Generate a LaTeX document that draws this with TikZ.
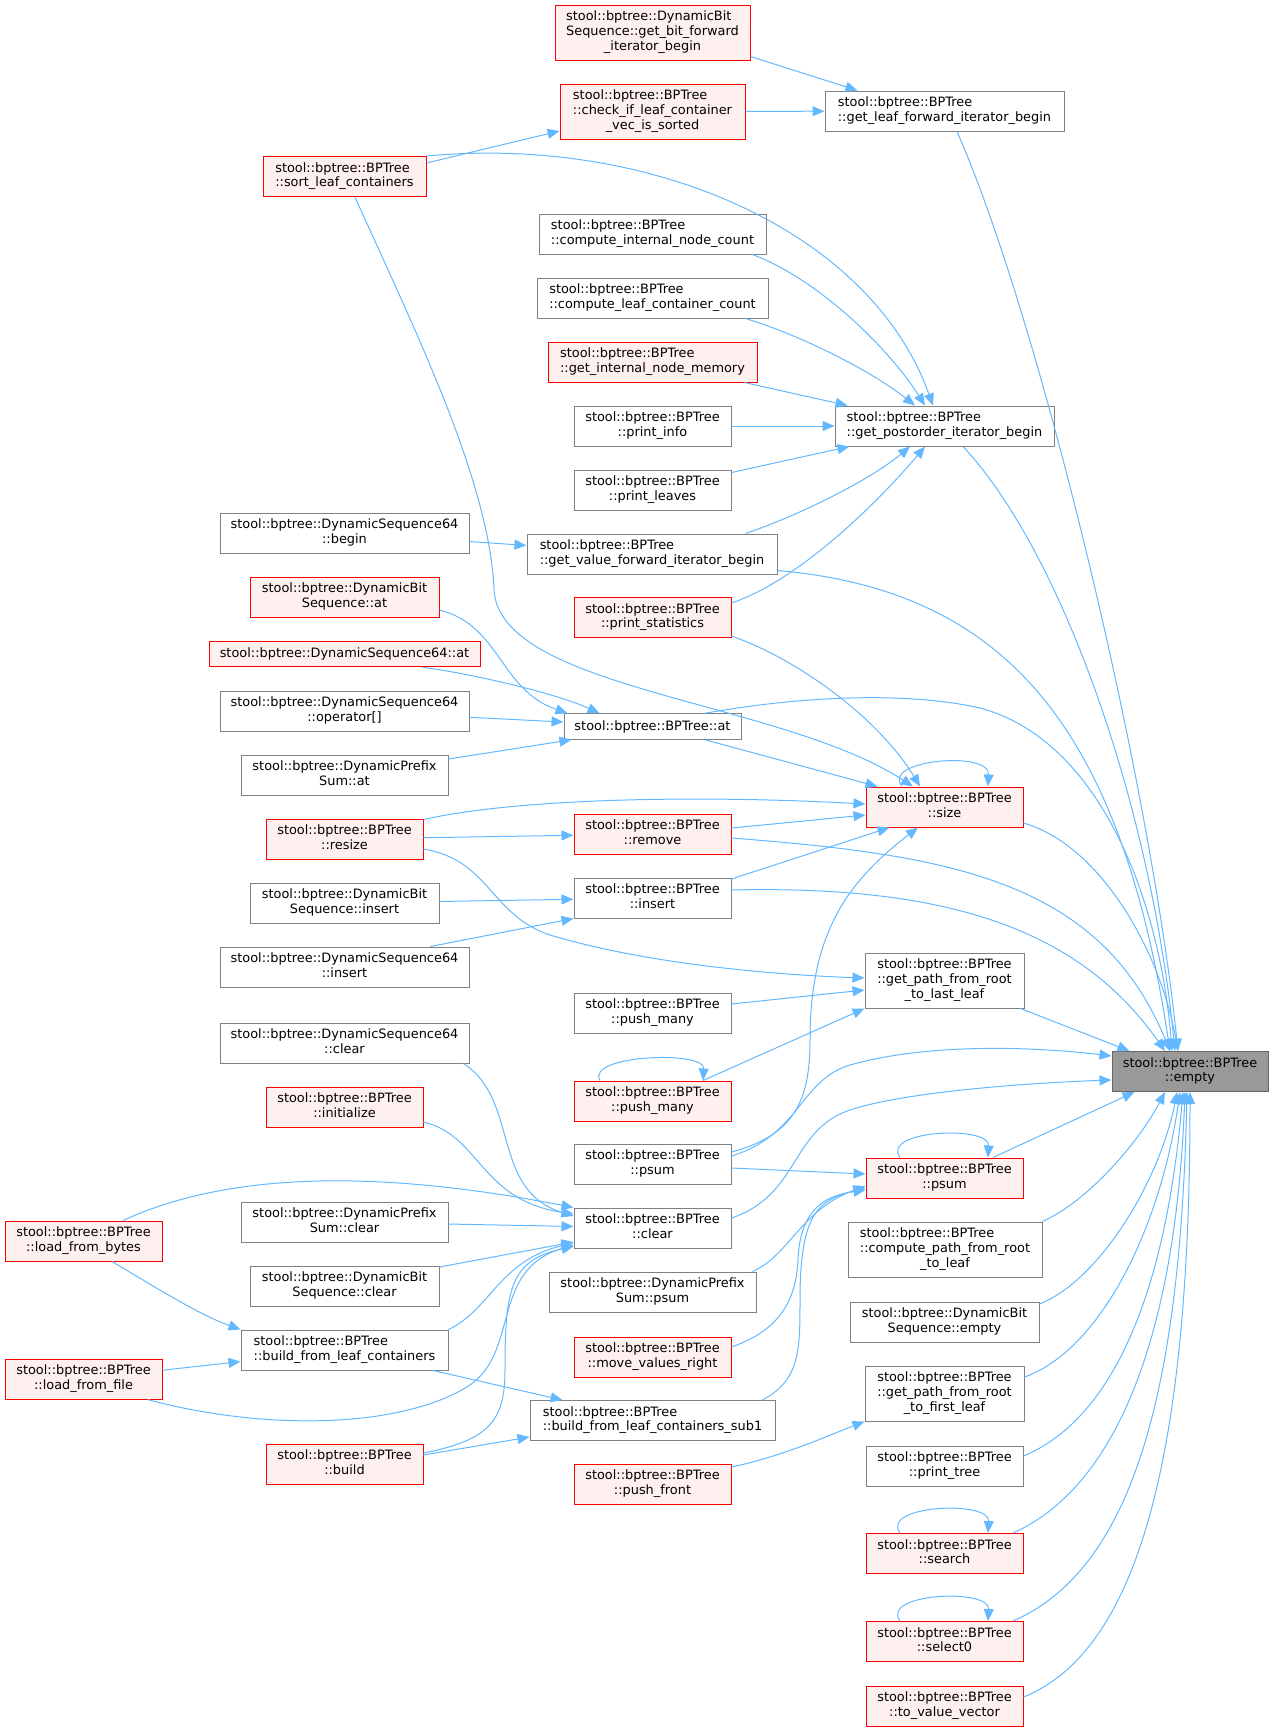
\documentclass[tikz,border=0pt]{standalone}
\usepackage{fontspec}
\setmainfont{DejaVu Sans}
\usetikzlibrary{arrows.meta}
\definecolor{edgeblue}{HTML}{63B8FF}
\definecolor{nodegray}{HTML}{808080}
\definecolor{maingray}{HTML}{666666}
\definecolor{hotfill}{HTML}{FFF0F0}
\definecolor{mainfill}{HTML}{999999}
\newcommand{\fnlabel}[2]{\begin{tabular}{@{}l@{}}#1\\\multicolumn{1}{@{}c@{}}{#2}\end{tabular}}

\begin{document}
\begin{tikzpicture}[x=0.5pt, y=-0.5pt,
  fn/.style={draw=nodegray, fill=white, line width=0.5pt, inner sep=0pt,
    minimum height=20pt, font=\fontsize{6.45}{7.35}\selectfont},
  hot/.style={fn, draw=red, fill=hotfill},
  main/.style={fn, draw=maingray, fill=mainfill},
  wd/.style={minimum width=#1*0.5pt},
  tall/.style={minimum height=27.5pt},
  flat/.style={minimum height=12.75pt},
  call/.style={draw=edgeblue, line width=0.5pt, -{Triangle[length=6pt,width=5pt]}}]
\useasboundingbox (0,0) rectangle (1273,1731);

\node [hot,wd=195,tall] (gbf) at (652.5,  32.5) {\fnlabel{stool::bptree::DynamicBit\\Sequence::get\_bit\_forward}{\_iterator\_begin}};
\node [hot,wd=185,tall] (chk) at (652.5, 111.5) {\fnlabel{stool::bptree::BPTree\\::check\_if\_leaf\_container}{\_vec\_is\_sorted}};
\node [fn,wd=239]       (glf) at (944.5, 111)   {\fnlabel{stool::bptree::BPTree}{::get\_leaf\_forward\_iterator\_begin}};
\node [hot,wd=163]      (slc) at (344.5, 176.5) {\fnlabel{stool::bptree::BPTree}{::sort\_leaf\_containers}};
\node [fn,wd=227]       (cin) at (652.5, 234)   {\fnlabel{stool::bptree::BPTree}{::compute\_internal\_node\_count}};
\node [fn,wd=231]       (clc) at (652.5, 298)   {\fnlabel{stool::bptree::BPTree}{::compute\_leaf\_container\_count}};
\node [hot,wd=209]      (gim) at (652.5, 362)   {\fnlabel{stool::bptree::BPTree}{::get\_internal\_node\_memory}};
\node [fn,wd=157]       (pin) at (652.5, 426)   {\fnlabel{stool::bptree::BPTree}{::print\_info}};
\node [fn,wd=219]       (gpo) at (944.5, 426)   {\fnlabel{stool::bptree::BPTree}{::get\_postorder\_iterator\_begin}};
\node [fn,wd=157]       (plv) at (652.5, 490)   {\fnlabel{stool::bptree::BPTree}{::print\_leaves}};
\node [fn,wd=249]       (dsb) at (344.5, 533)   {\fnlabel{stool::bptree::DynamicSequence64}{::begin}};
\node [fn,wd=250]       (gvf) at (652,   554)   {\fnlabel{stool::bptree::BPTree}{::get\_value\_forward\_iterator\_begin}};
\node [hot,wd=189]      (dba) at (344.5, 597)   {\fnlabel{stool::bptree::DynamicBit}{Sequence::at}};
\node [hot,wd=157]      (pst) at (652.5, 617.5) {\fnlabel{stool::bptree::BPTree}{::print\_statistics}};
\node [hot,wd=271,flat] (dsa) at (344.5, 654)   {stool::bptree::DynamicSequence64::at};
\node [fn,wd=249]       (dso) at (344.5, 711)   {\fnlabel{stool::bptree::DynamicSequence64}{::operator[]}};
\node [fn,wd=177,flat]  (at)  at (652.5, 726.5) {stool::bptree::BPTree::at};
\node [fn,wd=207]       (dpa) at (344.5, 775)   {\fnlabel{stool::bptree::DynamicPrefix}{Sum::at}};
\node [hot,wd=157]      (sz)  at (944.5, 807)   {\fnlabel{stool::bptree::BPTree}{::size}};
\node [hot,wd=157]      (rsz) at (344.5, 839)   {\fnlabel{stool::bptree::BPTree}{::resize}};
\node [hot,wd=157]      (rm)  at (652.5, 834)   {\fnlabel{stool::bptree::BPTree}{::remove}};
\node [fn,wd=157]       (ins) at (652.5, 898)   {\fnlabel{stool::bptree::BPTree}{::insert}};
\node [fn,wd=189]       (dbi) at (344.5, 903)   {\fnlabel{stool::bptree::DynamicBit}{Sequence::insert}};
\node [fn,wd=249]       (dsi) at (344.5, 967)   {\fnlabel{stool::bptree::DynamicSequence64}{::insert}};
\node [fn,wd=159,tall]  (gpl) at (944.5, 980.5) {\fnlabel{stool::bptree::BPTree\\::get\_path\_from\_root}{\_to\_last\_leaf}};
\node [fn,wd=157]       (pmw) at (652.5, 1013)  {\fnlabel{stool::bptree::BPTree}{::push\_many}};
\node [fn,wd=249]       (dsc) at (344.5, 1043)  {\fnlabel{stool::bptree::DynamicSequence64}{::clear}};
\node [main,wd=156]     (emp) at (1190,  1071.5) {\fnlabel{stool::bptree::BPTree}{::empty}};
\node [hot,wd=157]      (pmr) at (652.5, 1101)  {\fnlabel{stool::bptree::BPTree}{::push\_many}};
\node [hot,wd=157]      (ini) at (344.5, 1107)  {\fnlabel{stool::bptree::BPTree}{::initialize}};
\node [fn,wd=157]       (psw) at (652.5, 1164)  {\fnlabel{stool::bptree::BPTree}{::psum}};
\node [hot,wd=157]      (psr) at (944.5, 1178)  {\fnlabel{stool::bptree::BPTree}{::psum}};
\node [fn,wd=207]       (dpc) at (344.5, 1222)  {\fnlabel{stool::bptree::DynamicPrefix}{Sum::clear}};
\node [fn,wd=157]       (clr) at (652.5, 1228)  {\fnlabel{stool::bptree::BPTree}{::clear}};
\node [hot,wd=157]      (lfb) at (83.5,  1241)  {\fnlabel{stool::bptree::BPTree}{::load\_from\_bytes}};
\node [fn,wd=194,tall]  (cpl) at (945,   1249.5) {\fnlabel{stool::bptree::BPTree\\::compute\_path\_from\_root}{\_to\_leaf}};
\node [fn,wd=189]       (dbc) at (344.5, 1286)  {\fnlabel{stool::bptree::DynamicBit}{Sequence::clear}};
\node [fn,wd=207]       (dps) at (652.5, 1292)  {\fnlabel{stool::bptree::DynamicPrefix}{Sum::psum}};
\node [fn,wd=189]       (dbe) at (944.5, 1322)  {\fnlabel{stool::bptree::DynamicBit}{Sequence::empty}};
\node [fn,wd=207]       (bfl) at (344.5, 1350)  {\fnlabel{stool::bptree::BPTree}{::build\_from\_leaf\_containers}};
\node [hot,wd=157]      (mvr) at (652.5, 1357)  {\fnlabel{stool::bptree::BPTree}{::move\_values\_right}};
\node [hot,wd=157]      (lff) at (83.5,  1379)  {\fnlabel{stool::bptree::BPTree}{::load\_from\_file}};
\node [fn,wd=159,tall]  (gpf) at (944.5, 1393.5) {\fnlabel{stool::bptree::BPTree\\::get\_path\_from\_root}{\_to\_first\_leaf}};
\node [fn,wd=245]       (bs1) at (652.5, 1420.5) {\fnlabel{stool::bptree::BPTree}{::build\_from\_leaf\_containers\_sub1}};
\node [hot,wd=157]      (bld) at (344.5, 1464)  {\fnlabel{stool::bptree::BPTree}{::build}};
\node [fn,wd=157]       (ptr) at (944.5, 1466)  {\fnlabel{stool::bptree::BPTree}{::print\_tree}};
\node [hot,wd=157]      (pfr) at (652.5, 1484)  {\fnlabel{stool::bptree::BPTree}{::push\_front}};
\node [hot,wd=157]      (sea) at (944.5, 1553.5) {\fnlabel{stool::bptree::BPTree}{::search}};
\node [hot,wd=157]      (sel) at (944.5, 1641.5) {\fnlabel{stool::bptree::BPTree}{::select0}};
\node [hot,wd=157]      (tvv) at (944.5, 1706)  {\fnlabel{stool::bptree::BPTree}{::to\_value\_vector}};

\draw [call] ([shift={(0,-4)}]gbf.south east) -- ([shift={(33,0)}]glf.north west);
\draw [call] (chk) -- (glf);
\draw [call] ([shift={(12.5,0)}]glf.south) .. controls (1040,320) and (1150,780) .. ([shift={(-12,0)}]emp.north);
\draw [call] ([shift={(0,-13.5)}]slc.east) -- ([shift={(0,19.5)}]chk.west);
\draw [call] (slc.north east) .. controls (650,135) and (870,230) .. ([shift={(-11.5,0)}]gpo.north);
\draw [call] ([shift={(10.5,0)}]slc.south) .. controls (410,320) and (490,480) .. (494,590)
    .. controls (500,690) and (780,700) .. ([shift={(-31.5,0)}]sz.north);
\draw [call] ([shift={(-14,0)}]cin.south east) .. controls (820,280) and (890,350) .. ([shift={(-19.5,0)}]gpo.north);
\draw [call] ([shift={(-23,0)}]clc.south east) .. controls (800,335) and (870,370) .. ([shift={(-29.5,0)}]gpo.north);
\draw [call] ([shift={(-13,0)}]gim.south east) -- ([shift={(13,0)}]gpo.north west);
\draw [call] (pin) -- (gpo);
\draw [call] ([shift={(0,3)}]plv.north east) -- ([shift={(15,0)}]gpo.south west);
\draw [call] ([shift={(-32,0)}]gvf.north east) .. controls (800,515) and (870,480) .. ([shift={(-34.5,0)}]gpo.south);
\draw [call] ([shift={(0,6)}]pst.north east) .. controls (800,580) and (880,500) .. ([shift={(-19.5,0)}]gpo.south);
\draw [call] ([shift={(18.5,0)}]gpo.south) .. controls (1060,550) and (1150,800) .. ([shift={(-15,0)}]emp.north);
\draw [call] (dsb) -- (gvf);
\draw [call] ([shift={(0,-4)}]gvf.south east) .. controls (1000,590) and (1120,720) .. ([shift={(-20,0)}]emp.north);

\draw [call] ([shift={(0,13)}]dba.east) .. controls (500,625) and (500,690) .. ([shift={(4,0)}]at.north west);
\draw [call] ([shift={(-58,0)}]dsa.south east) .. controls (480,675) and (560,695) .. ([shift={(36,0)}]at.north west);
\draw [call] (dso) -- (at);
\draw [call] ([shift={(0,-16)}]dpa.east) -- ([shift={(8,0)}]at.south west);
\draw [call] ([shift={(52.5,0)}]at.south) -- ([shift={(12,0)}]sz.north west);
\draw [call] ([shift={(52.5,0)}]at.north) .. controls (790,698) and (900,690) .. (980,708)
    .. controls (1100,740) and (1160,900) .. ([shift={(-18,0)}]emp.north);
\draw [call] ([shift={(-42.5,0)}]sz.north) .. controls (880,760) and (990,750) .. ([shift={(43.5,0)}]sz.north);
\draw [call] ([shift={(0,18.5)}]pst.east) .. controls (800,660) and (880,720) .. ([shift={(-24.5,0)}]sz.north);
\draw [call] ([shift={(0,1)}]rsz.north east) .. controls (520,798) and (700,795) .. ([shift={(0,-3)}]sz.west);
\draw [call] (rsz) -- (rm);
\draw [call] ([shift={(0,10)}]rsz.east) .. controls (490,860) and (490,915) .. (550,935)
    .. controls (650,965) and (780,975) .. ([shift={(0,-2.5)}]gpl.west);
\draw [call] ([shift={(0,-6)}]rm.east) -- ([shift={(0,8)}]sz.west);
\draw [call] ([shift={(0,4)}]rm.east) .. controls (950,855) and (1100,880) .. ([shift={(-20,0)}]emp.north);
\draw [call] ([shift={(0,-19)}]ins.east) -- ([shift={(24,0)}]sz.south west);
\draw [call] ([shift={(0,-8)}]ins.east) .. controls (950,885) and (1080,930) .. ([shift={(-25,0)}]emp.north);
\draw [call] (dbi) -- (ins);
\draw [call] ([shift={(-39,0)}]dsi.north east) -- (ins.south west);
\draw [call] ([shift={(0,16)}]sz.east) .. controls (1100,845) and (1160,950) .. ([shift={(-12,0)}]emp.north);

\draw [call] ([shift={(0,-12)}]psw.east) .. controls (795,1135) and (810,1100) .. (810,1040)
    .. controls (810,930) and (850,880) .. ([shift={(-26.5,0)}]sz.south);
\draw [call] ([shift={(0,-8)}]psw.east) .. controls (800,1135) and (800,1080) .. (850,1065)
    .. controls (920,1045) and (1020,1045) .. ([shift={(0,-15.5)}]emp.west);
\draw [call] ([shift={(0,-10)}]clr.east) .. controls (800,1195) and (790,1130) .. (850,1110)
    .. controls (910,1090) and (1050,1082) .. ([shift={(0,8.5)}]emp.west);
\draw [call] ([shift={(-4,0)}]gpl.south east) -- ([shift={(18,0)}]emp.north west);
\draw [call] ([shift={(0,-9)}]pmw.east) -- ([shift={(0,9.5)}]gpl.west);
\draw [call] ([shift={(50.5,0)}]pmr.north) -- (gpl.south west);
\draw [call] ([shift={(-52.5,0)}]pmr.north) .. controls (585,1055) and (705,1050) .. ([shift={(50.5,0)}]pmr.north);
\draw [call] ([shift={(0,4)}]psw.east) -- ([shift={(0,-4)}]psr.west);
\draw [call] ([shift={(-44.5,0)}]psr.north) .. controls (880,1130) and (990,1125) .. ([shift={(43.5,0)}]psr.north);
\draw [call] ([shift={(48.5,0)}]psr.north) -- ([shift={(23,0)}]emp.south west);
\draw [call] ([shift={(-13,0)}]bs1.north east) .. controls (800,1380) and (800,1350) .. (800,1300)
    .. controls (800,1210) and (820,1200) .. ([shift={(0,10)}]psr.west);
\draw [call] ([shift={(0,-10)}]mvr.east) .. controls (780,1330) and (796,1300) .. (798,1260)
    .. controls (800,1205) and (830,1195) .. ([shift={(0,12)}]psr.west);
\draw [call] ([shift={(-4,0)}]dps.north east) .. controls (790,1255) and (800,1210) .. ([shift={(0,8)}]psr.west);

\draw [call] ([shift={(39.5,0)}]lfb.north) .. controls (200,1185) and (330,1160) .. (clr.north west);
\draw [call] ([shift={(-6,0)}]dsc.south east) .. controls (520,1100) and (490,1190) .. ([shift={(0,-12)}]clr.west);
\draw [call] ([shift={(0,15)}]ini.east) .. controls (480,1135) and (480,1200) .. ([shift={(0,-14)}]clr.west);
\draw [call] (dpc) -- (clr);
\draw [call] ([shift={(0,-19)}]dbc.east) -- ([shift={(0,14)}]clr.west);
\draw [call] (bfl.north east) .. controls (490,1310) and (500,1260) .. ([shift={(0,15)}]clr.west);
\draw [call] ([shift={(-15,0)}]lff.south east) .. controls (260,1430) and (400,1430) .. (470,1385)
    .. controls (520,1350) and (490,1270) .. ([shift={(0,17)}]clr.west);
\draw [call] ([shift={(0,-11)}]bld.east) .. controls (490,1440) and (505,1420) .. (505,1370)
    .. controls (505,1290) and (510,1260) .. ([shift={(0,-2)}]clr.south west);
\draw [call] ([shift={(28.5,0)}]lfb.south) .. controls (160,1290) and (200,1315) .. (bfl.north west);
\draw [call] (lff) -- (bfl);
\draw [call] ([shift={(88.5,0)}]bfl.south) -- ([shift={(33,0)}]bs1.north west);
\draw [call] ([shift={(0,-9)}]bld.east) -- ([shift={(0,16.5)}]bs1.west);
\draw [call] ([shift={(0,-17)}]pfr.east) .. controls (780,1457) and (830,1435) .. (gpf.south west);

\draw [call] (cpl.north east) .. controls (1090,1200) and (1140,1140) .. ([shift={(-25,0)}]emp.south);
\draw [call] ([shift={(0,-18)}]dbe.east) .. controls (1100,1280) and (1160,1180) .. ([shift={(-13,0)}]emp.south);
\draw [call] ([shift={(0,-16.5)}]gpf.east) .. controls (1100,1350) and (1160,1230) .. ([shift={(-10,0)}]emp.south);
\draw [call] ([shift={(0,-10)}]ptr.east) .. controls (1110,1420) and (1165,1300) .. ([shift={(-7,0)}]emp.south);
\draw [call] ([shift={(68.5,0)}]sea.north) .. controls (1110,1490) and (1175,1350) .. ([shift={(-5,0)}]emp.south);
\draw [call] ([shift={(-44.5,0)}]sea.north) .. controls (880,1505) and (990,1500) .. ([shift={(43.5,0)}]sea.north);
\draw [call] ([shift={(68.5,0)}]sel.north) .. controls (1130,1570) and (1180,1400) .. ([shift={(-3,0)}]emp.south);
\draw [call] ([shift={(-44.5,0)}]sel.north) .. controls (880,1593) and (990,1588) .. ([shift={(43.5,0)}]sel.north);
\draw [call] ([shift={(0,-9)}]tvv.east) .. controls (1140,1650) and (1190,1450) .. (emp.south);
\end{tikzpicture}
\end{document}
